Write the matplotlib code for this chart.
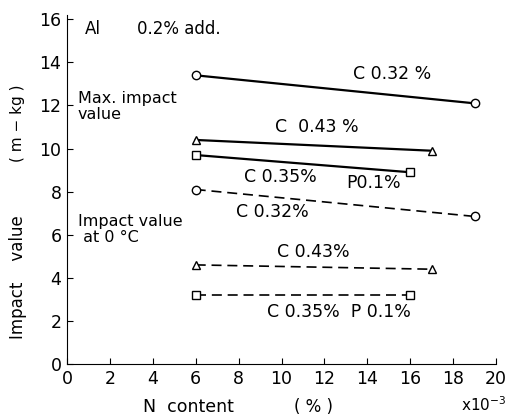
import matplotlib
matplotlib.use("Agg")
import matplotlib.pyplot as plt

plt.rcParams['font.family'] = ['DejaVu Sans']

# N content (x10^-3 %) at both ends of each series
n_c032 = [6, 19]
n_c043 = [6, 17]
n_c035 = [6, 16]

# max. impact value (m-kg)
max_c032 = [13.4, 12.1]
max_c043 = [10.4, 9.9]
max_c035 = [9.7, 8.9]

# impact value at 0 C (m-kg)
zero_c032 = [8.1, 6.85]
zero_c043 = [4.6, 4.4]
zero_c035 = [3.2, 3.2]

xticks = [0, 2, 4, 6, 8, 10, 12, 14, 16, 18, 20]
yticks = [0, 2, 4, 6, 8, 10, 12, 14, 16]

fig = plt.figure(figsize=(5.1, 4.18), dpi=100)
ax = fig.add_axes([67/510, 1-364/418, (496-67)/510, (364-15)/418])

mk = dict(ms=6, mfc='white', mec='black', mew=1.0, color='black')
ax.plot(n_c032, max_c032, '-o', lw=1.6, **mk)
ax.plot(n_c043, max_c043, '-^', lw=1.6, **mk)
ax.plot(n_c035, max_c035, '-s', lw=1.6, **mk)
dash = (0, (6, 3.5))
ax.plot(n_c032, zero_c032, marker='o', ls=dash, lw=1.2, **mk)
ax.plot(n_c043, zero_c043, marker='^', ls=dash, lw=1.2, **mk)
ax.plot(n_c035, zero_c035, marker='s', ls=dash, lw=1.2, **mk)

ax.set_xlim(0, 20)
ax.set_ylim(0, 16.2)
ax.set_xticks(xticks)
ax.set_yticks(yticks)
ax.tick_params(direction='in', length=4, labelsize=12.5, pad=4)
for s in ['top', 'right']:
    ax.spines[s].set_visible(False)

fs = 12.5
ax.text(15.15, 13.45, 'C 0.32 %', fontsize=fs, ha='center', va='center')
ax.text(11.65, 11.0, 'C  0.43 %', fontsize=fs, ha='center', va='center')
ax.text(9.93, 8.7, 'C 0.35%', fontsize=fs, ha='center', va='center')
ax.text(14.27, 8.4, 'P0.1%', fontsize=fs, ha='center', va='center')
ax.text(9.56, 7.07, 'C 0.32%', fontsize=fs, ha='center', va='center')
ax.text(11.5, 5.2, 'C 0.43%', fontsize=fs, ha='center', va='center')
ax.text(12.7, 2.42, 'C 0.35%  P 0.1%', fontsize=fs, ha='center', va='center')

ax.text(0.5, 11.95, 'Max. impact\nvalue', fontsize=11.5, ha='left', va='center',
        linespacing=1.1)
ax.text(0.5, 6.25, 'Impact value\n at 0 \u00b0C', fontsize=11.5, ha='left', va='center',
        linespacing=1.1)
ax.text(0.84, 15.55, 'Al', fontsize=12, ha='left', va='center')
ax.text(3.26, 15.55, '0.2% add.', fontsize=12, ha='left', va='center')

fig.text(18/510, 1-277/418, 'Impact    value', rotation=90, fontsize=12,
         ha='center', va='center')
fig.text(18/510, 1-123/418, '( m \u2212 kg )', rotation=90, fontsize=11,
         ha='center', va='center')
fig.text(188/510, 1-407/418, 'N  content', fontsize=12.5, ha='center', va='center')
fig.text(313/510, 1-407/418, '( % )', fontsize=12, ha='center', va='center')
fig.text(506/510, 1-405/418, r'x$10^{-3}$', fontsize=11, ha='right', va='center')

fig.savefig('out.png', dpi=100)
